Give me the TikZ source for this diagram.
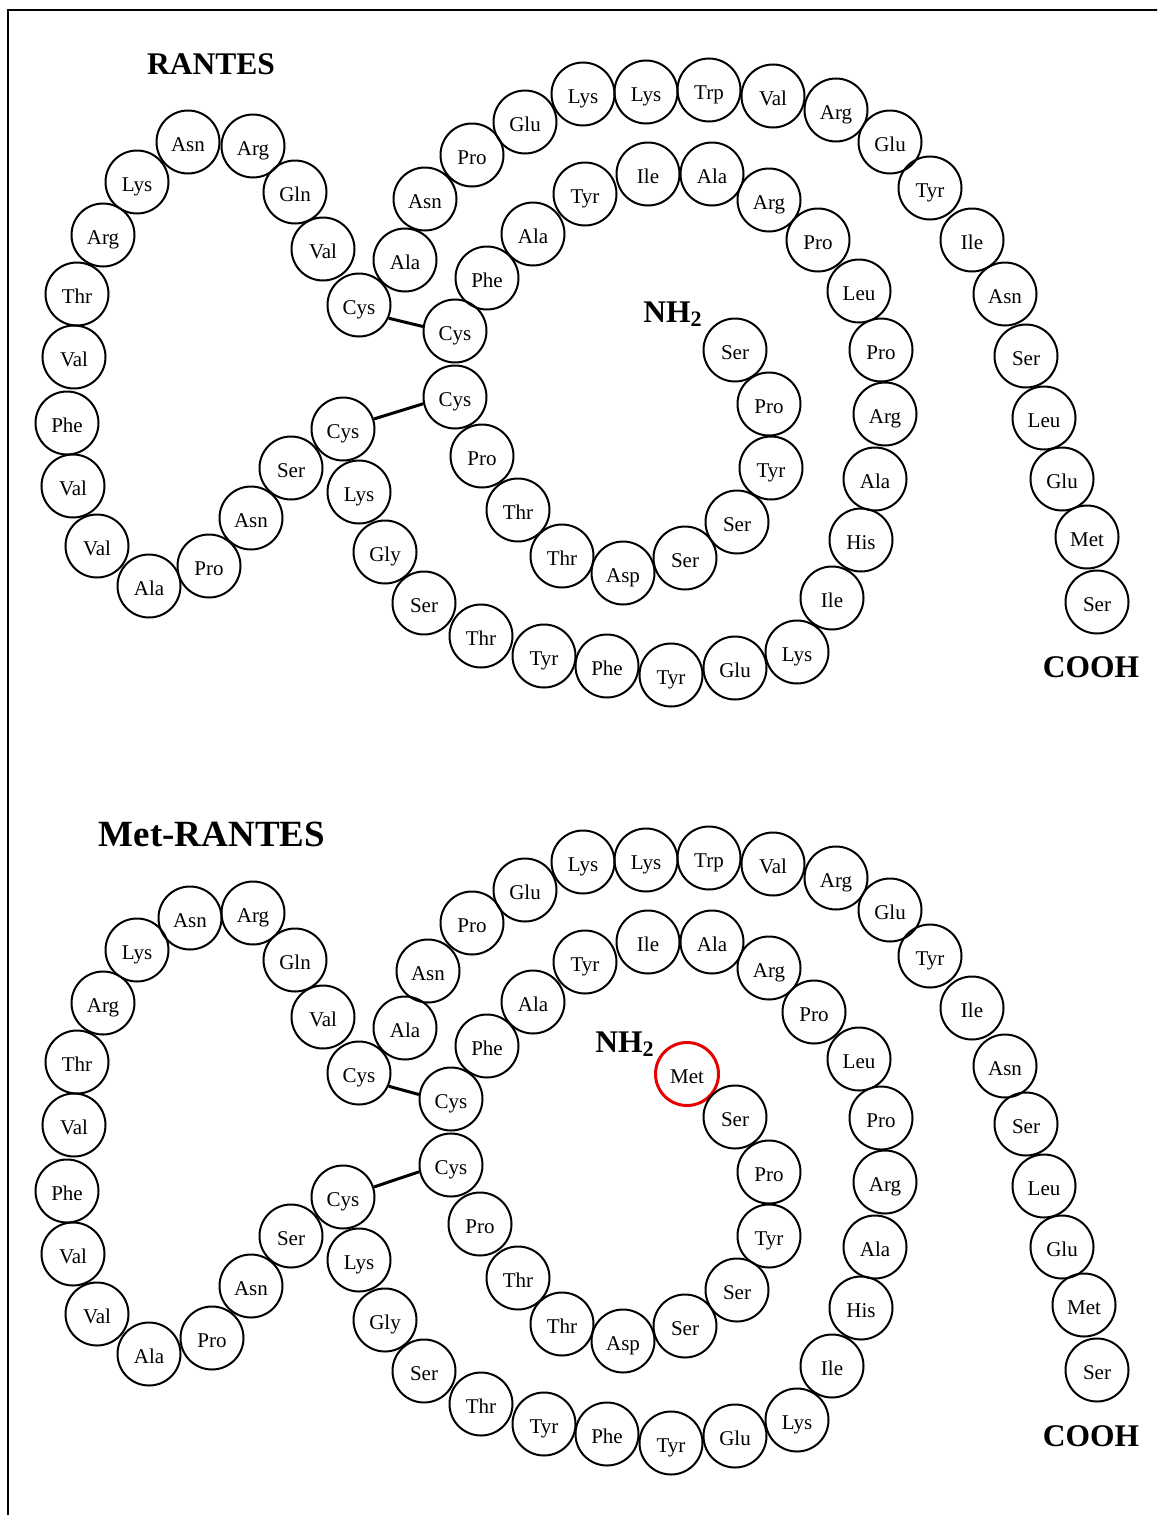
\documentclass[tikz,border=0pt]{standalone}
\usepackage{fontspec}
\setmainfont{Liberation Serif}
\begin{document}
\begin{tikzpicture}[x=0.5pt,y=-0.5pt,
  res/.style={circle,draw,line width=1pt,minimum size=31.5pt,inner sep=0pt,
    font=\fontsize{10.5}{12}\selectfont,text height=9pt,text depth=0pt},
  added/.style={res,draw={rgb,255:red,230;green,0;blue,0},line width=1.5pt},
  bond/.style={line width=1.5pt},
  title/.style={font=\bfseries\fontsize{15.75}{18}\selectfont,anchor=base},
  bigtitle/.style={font=\bfseries\fontsize{18.5}{22}\selectfont,anchor=base},
  terminus/.style={font=\bfseries\fontsize{15.75}{18}\selectfont,inner sep=0pt}]
\useasboundingbox (0,0) rectangle (1157,1515);
\clip (0,0) rectangle (1157,1515);
\fill[white] (0,0) rectangle (1157,1515);
% frame (left and top edges fall inside the page)
\draw[line width=1.1pt] (8,1530) -- (8,10) -- (1170,10);

% ---------- RANTES ----------
\node[title] (ttitle) at (211,74) {RANTES};
\foreach \i/\aa/\x/\y in {
 1/Ser/735/350, 2/Pro/769/404, 3/Tyr/771/468, 4/Ser/737/522, 5/Ser/685/558,
 6/Asp/623/573, 7/Thr/562/556, 8/Thr/518/510, 9/Pro/482/456, 10/Cys/455/397,
 11/Cys/455/331, 12/Phe/487/278, 13/Ala/533/234, 14/Tyr/585/194, 15/Ile/648/174,
 16/Ala/712/174, 17/Arg/769/200, 18/Pro/818/240, 19/Leu/859/291, 20/Pro/881/350,
 21/Arg/885/414, 22/Ala/875/479, 23/His/861/540, 24/Ile/832/598, 25/Lys/797/652,
 26/Glu/735/668, 27/Tyr/671/675, 28/Phe/607/666, 29/Tyr/544/656, 30/Thr/481/636,
 31/Ser/424/603, 32/Gly/385/552, 33/Lys/359/492, 34/Cys/343/429, 35/Ser/291/468,
 36/Asn/251/518, 37/Pro/209/566, 38/Ala/149/586, 39/Val/97/546, 40/Val/73/486,
 41/Phe/67/423, 42/Val/74/357, 43/Thr/77/294, 44/Arg/103/235, 45/Lys/137/182,
 46/Asn/188/142, 47/Arg/253/146, 48/Gln/295/192, 49/Val/323/249, 50/Cys/359/305,
 51/Ala/405/260, 52/Asn/425/199, 53/Pro/472/155, 54/Glu/525/122, 55/Lys/583/94,
 56/Lys/646/92, 57/Trp/709/90, 58/Val/773/96, 59/Arg/836/110, 60/Glu/890/142,
 61/Tyr/930/188, 62/Ile/972/240, 63/Asn/1005/294, 64/Ser/1026/356, 65/Leu/1044/418,
 66/Glu/1062/479, 67/Met/1087/537, 68/Ser/1097/602}
 {\node[res] (t\i) at (\x,\y) {\aa};}
\node[terminus,anchor=base west] (tnh) at (643,322) {NH\textsubscript{2}};
\node[terminus,anchor=base] (tcooh) at (1091,677) {COOH};
% disulfide bridges
\draw[bond] (t50.-24) -- (t11.172);
\draw[bond] (t34.18) -- (t10.192);

% ---------- Met-RANTES ----------
\node[bigtitle] (btitle) at (212,846) {Met-RANTES};
\node[added] (b0) at (687,1074) {Met};
\foreach \i/\aa/\x/\y in {
 1/Ser/735/1117, 2/Pro/769/1172, 3/Tyr/769/1236, 4/Ser/737/1290, 5/Ser/685/1326,
 6/Asp/623/1341, 7/Thr/562/1324, 8/Thr/518/1278, 9/Pro/480/1224, 10/Cys/451/1165,
 11/Cys/451/1099, 12/Phe/487/1046, 13/Ala/533/1002, 14/Tyr/585/962, 15/Ile/648/942,
 16/Ala/712/942, 17/Arg/769/968, 18/Pro/814/1012, 19/Leu/859/1059, 20/Pro/881/1118,
 21/Arg/885/1182, 22/Ala/875/1247, 23/His/861/1308, 24/Ile/832/1366, 25/Lys/797/1420,
 26/Glu/735/1436, 27/Tyr/671/1443, 28/Phe/607/1434, 29/Tyr/544/1424, 30/Thr/481/1404,
 31/Ser/424/1371, 32/Gly/385/1320, 33/Lys/359/1260, 34/Cys/343/1197, 35/Ser/291/1236,
 36/Asn/251/1286, 37/Pro/212/1338, 38/Ala/149/1354, 39/Val/97/1314, 40/Val/73/1254,
 41/Phe/67/1191, 42/Val/74/1125, 43/Thr/77/1062, 44/Arg/103/1003, 45/Lys/137/950,
 46/Asn/190/918, 47/Arg/253/913, 48/Gln/295/960, 49/Val/323/1017, 50/Cys/359/1073,
 51/Ala/405/1028, 52/Asn/428/971, 53/Pro/472/923, 54/Glu/525/890, 55/Lys/583/862,
 56/Lys/646/860, 57/Trp/709/858, 58/Val/773/864, 59/Arg/836/878, 60/Glu/890/910,
 61/Tyr/930/956, 62/Ile/972/1008, 63/Asn/1005/1066, 64/Ser/1026/1124, 65/Leu/1044/1186,
 66/Glu/1062/1247, 67/Met/1084/1305, 68/Ser/1097/1370}
 {\node[res] (b\i) at (\x,\y) {\aa};}
\node[terminus,anchor=base west] (bnh) at (595,1052) {NH\textsubscript{2}};
\node[terminus,anchor=base] (bcooh) at (1091,1446) {COOH};
% disulfide bridges
\draw[bond] (b50.-24) -- (b11.172);
\draw[bond] (b34.18) -- (b10.192);
\end{tikzpicture}
\end{document}
